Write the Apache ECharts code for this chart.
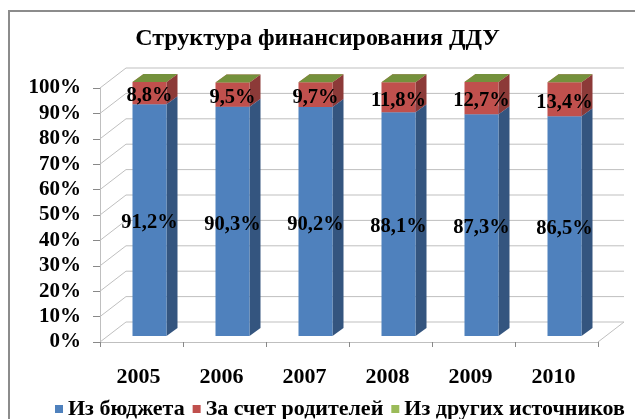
<!DOCTYPE html>
<html><head><meta charset="utf-8">
<script src="https://cdn.jsdelivr.net/npm/echarts@6/dist/echarts.min.js"></script>
<style>html,body{margin:0;padding:0;background:#fff}#c{width:635px;height:419px}</style>
</head><body><div id="c"></div>
<script>
var categories = ['2005','2006','2007','2008','2009','2010'];
var budget  = [91.2, 90.3, 90.2, 88.1, 87.3, 86.5];
var parents = [8.8, 9.5, 9.7, 11.8, 12.7, 13.4];
var others  = [0, 0, 0, 0, 0, 0];
var seriesNames = ['Из бюджета', 'За счет родителей', 'Из других источников'];
var yTicks = [0,10,20,30,40,50,60,70,80,90,100];

var FONT = '"Liberation Serif","Times New Roman",serif';
var palette = [
  {front:'#4F81BD', side:'#34557F', top:'#6A95CC'},
  {front:'#C0504D', side:'#8C3A38', top:'#CD6A67'},
  {front:'#9BBB59', side:'#71893F', top:'#74913C'}
];
var DEPTH_X = 26, DEPTH_Y = -20;      // wall depth
var BAR_SHIFT_X = 8, BAR_SHIFT_Y = -6; // bar position within depth
var BAR_W = 34, BAR_DX = 11, BAR_DY = -8;

var values = [budget, parents, others];
function stackData(k){
  return categories.map(function(c,i){
    var s = 0; for (var j=0;j<k;j++) s += values[j][i];
    return [i, s, s + values[k][i], values[k][i]];
  });
}
function fmt(v){ return v.toFixed(1).replace('.', ',') + '%'; }

function barRender(k){
  return function(params, api){
    var i = api.value(0), s = api.value(1), e = api.value(2), v = api.value(3);
    var p0 = api.coord([i, s]), p1 = api.coord([i, e]);
    var cx = p0[0] + BAR_SHIFT_X;
    var L = cx - BAR_W/2, R = cx + BAR_W/2;
    var yb = p0[1] + BAR_SHIFT_Y, yt = p1[1] + BAR_SHIFT_Y;
    var c = palette[k];
    var children = [
      {type:'polygon', shape:{points:[[R,yb],[R+BAR_DX,yb+BAR_DY],[R+BAR_DX,yt+BAR_DY],[R,yt]]}, style:{fill:c.side}},
      {type:'polygon', shape:{points:[[L,yt],[R,yt],[R+BAR_DX,yt+BAR_DY],[L+BAR_DX,yt+BAR_DY]]}, style:{fill:c.top}},
      {type:'rect', shape:{x:L, y:yt, width:BAR_W, height:yb-yt}, style:{fill:c.front}}
    ];
    if (v > 0) {
      children.push({type:'text', style:{text:fmt(v), x:cx, y:(yb+yt)/2 + 3, align:'center', verticalAlign:'middle',
        font:'bold 20.5px ' + FONT, fill:'#000'}, z2:10});
    }
    return {type:'group', children:children};
  };
}

function wallRender(params, api){
  var cs = params.coordSys;
  var v = api.value(0);
  var y = api.coord([0, v])[1];
  var x0 = cs.x, x1 = cs.x + cs.width;
  var ls = {stroke:'#BFBFBF', lineWidth:1, fill:null};
  var children = [
    {type:'polyline', shape:{points:[[x0,y],[x0+DEPTH_X,y+DEPTH_Y],[x1+DEPTH_X,y+DEPTH_Y]]}, style:ls}
  ];
  if (v === 0) {
    children.push({type:'line', shape:{x1:x1, y1:y, x2:x1+DEPTH_X, y2:y+DEPTH_Y}, style:ls});
  }
  return {type:'group', children:children};
}

var series = [{
  type:'custom', name:'walls', renderItem:wallRender, data:yTicks.map(function(t){return [t];}),
  encode:{y:0}, silent:true, z:1, legendHoverLink:false
}];
for (var k=0;k<3;k++){
  series.push({
    type:'custom', name:seriesNames[k], renderItem:barRender(k), data:stackData(k),
    encode:{x:0, y:[1,2]}, itemStyle:{color:palette[k].front}, z:5+k
  });
}

var chart = echarts.init(document.getElementById('c'));
chart.setOption({
  animation:false,
  title:{text:'Структура финансирования ДДУ', left:'center', top:22,
    textStyle:{fontFamily:FONT, fontWeight:'bold', fontSize:24, color:'#000'}},
  graphic:[{type:'rect', shape:{x:9, y:11, width:700, height:500}, style:{fill:null, stroke:'#8C8C8C', lineWidth:2}, silent:true}],
  grid:{left:100, right:37, top:88, bottom:77},
  legend:{data:seriesNames, left:50, bottom:-6, icon:'rect', itemWidth:8, itemHeight:8, itemGap:8,
    textStyle:{fontFamily:FONT, fontWeight:'bold', fontSize:22, color:'#000'}},
  xAxis:{type:'category', data:categories, boundaryGap:true,
    axisLine:{show:true, lineStyle:{color:'#BFBFBF'}},
    axisTick:{show:true, length:5, lineStyle:{color:'#888'}},
    axisLabel:{margin:24, padding:[0,6,0,0], fontFamily:FONT, fontWeight:'bold', fontSize:22, color:'#000'}},
  yAxis:{type:'value', min:0, max:100, interval:10,
    axisLine:{show:true, lineStyle:{color:'#BFBFBF'}},
    axisTick:{show:true, length:7, lineStyle:{color:'#888'}},
    splitLine:{show:false},
    axisLabel:{margin:19, formatter:'{value}%', padding:[6,0,0,0], fontFamily:FONT, fontWeight:'bold', fontSize:21, color:'#000'}},
  series:series
});
</script></body></html>
